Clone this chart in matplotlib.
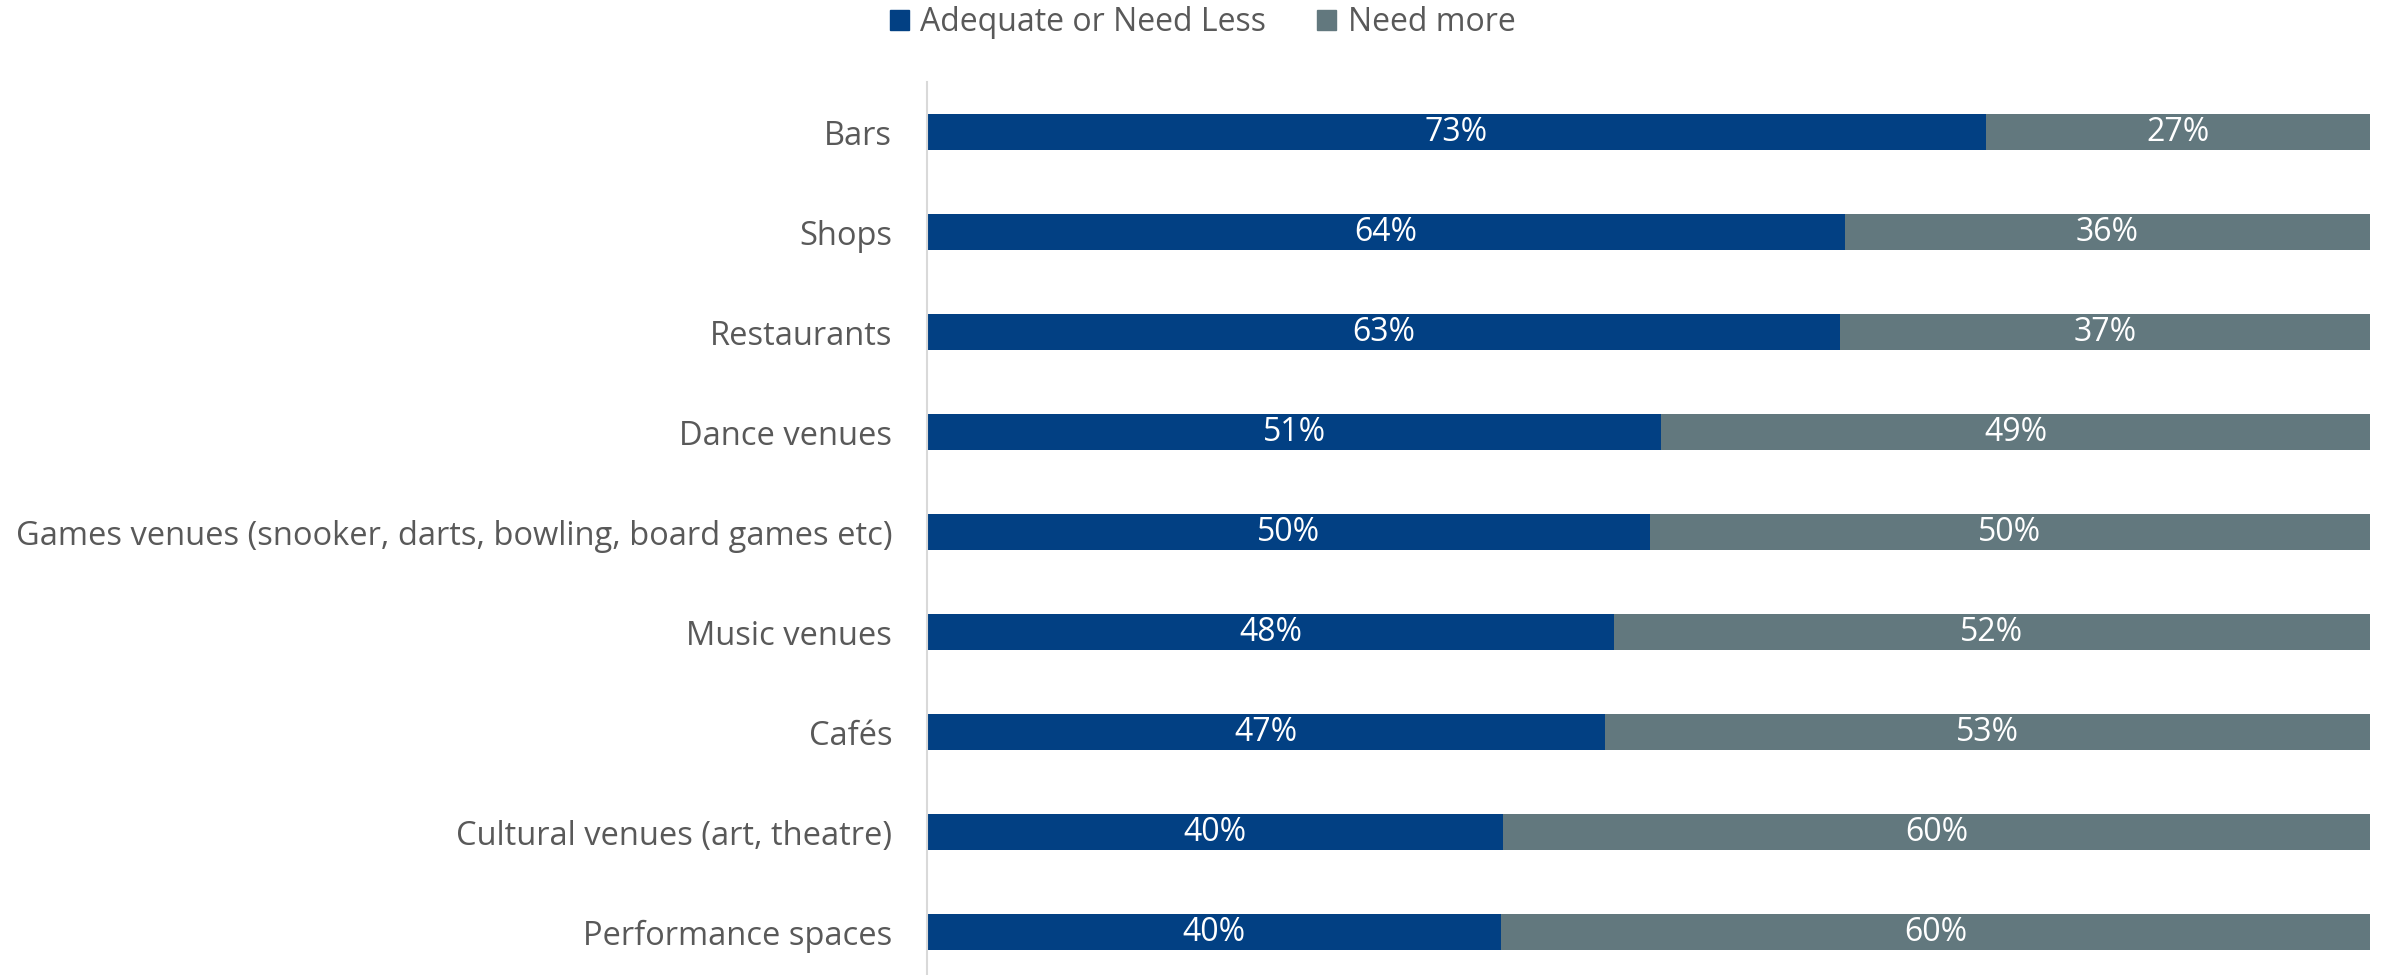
import numpy as np
import matplotlib.pyplot as plt
from matplotlib.patches import Patch

# survey answers, share of respondents (%)
categories = ['Bars', 'Shops', 'Restaurants', 'Dance venues',
              'Games venues (snooker, darts, bowling, board games etc)',
              'Music venues', 'Cafés', 'Cultural venues (art, theatre)',
              'Performance spaces']
adequate = np.array([73.4, 63.6, 63.3, 50.9, 50.1, 47.6, 47.0, 39.9, 39.8])
need_more = 100 - adequate

series_names = ['Adequate or Need Less', 'Need more']
blue = '#024083'
grey = '#62787e'
text_grey = '#595959'

plt.rcParams['font.family'] = ['Open Sans', 'DejaVu Sans']

fig = plt.figure(figsize=(23.86, 9.75), dpi=100)
ax = fig.add_axes([0.3885, -0.0072, 0.6048, 0.923])

y = np.arange(len(categories))
h = 0.36
ax.barh(y, adequate, height=h, color=blue, edgecolor='none')
ax.barh(y, need_more, left=adequate, height=h, color=grey, edgecolor='none')

for i in range(len(categories)):
    ax.text(adequate[i] / 2, y[i], '%d%%' % round(adequate[i]),
            ha='center', va='center', color='white', fontsize=23)
    ax.text(adequate[i] + need_more[i] / 2, y[i], '%d%%' % round(need_more[i]),
            ha='center', va='center', color='white', fontsize=23)

ax.set_xlim(0, 100)
ax.set_ylim(len(categories) - 0.5, -0.5)
ax.set_yticks(y)
ax.set_yticklabels(categories, fontsize=23.5, color=text_grey)
ax.tick_params(axis='y', length=0, pad=25)
ax.set_xticks([])
for s in ['top', 'right', 'bottom']:
    ax.spines[s].set_visible(False)
ax.spines['left'].set_color('#d9d9d9')
ax.spines['left'].set_linewidth(1.5)

handles = [Patch(color=blue), Patch(color=grey)]
fig.legend(handles, series_names, loc='center', bbox_to_anchor=(0.504, 0.977),
           ncol=2, frameon=False, fontsize=23, labelcolor=text_grey,
           handlelength=0.6, handleheight=0.6, handletextpad=0.35,
           columnspacing=1.6)

fig.savefig('out.png', dpi=100)
